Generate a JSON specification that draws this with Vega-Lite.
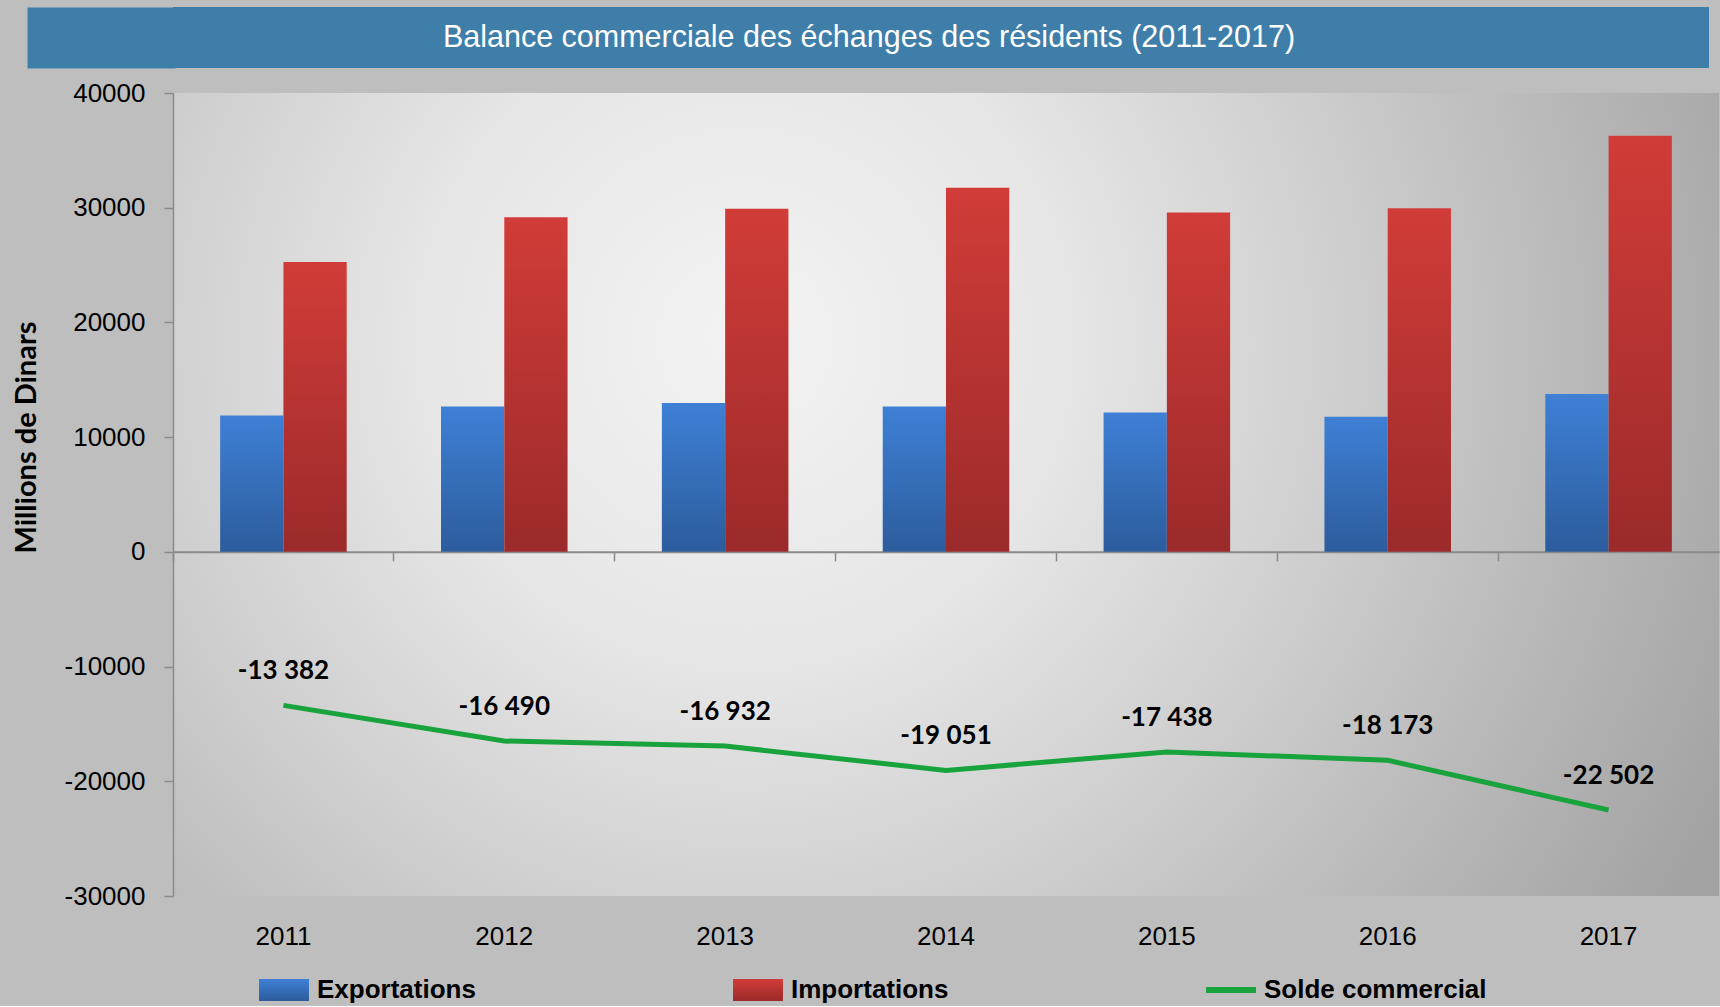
{
  "$schema": "https://vega.github.io/schema/vega-lite/v6.json",
  "background": "#bebebe",
  "padding": {"left": 12, "top": 7, "right": 2, "bottom": 3},
  "columns": 1,
  "align": "none",
  "spacing": 12,
  "datasets": {
    "echanges": [
      {"annee": "2011", "serie": "Exportations", "valeur": 11880},
      {"annee": "2011", "serie": "Importations", "valeur": 25262},
      {"annee": "2012", "serie": "Exportations", "valeur": 12680},
      {"annee": "2012", "serie": "Importations", "valeur": 29170},
      {"annee": "2013", "serie": "Exportations", "valeur": 12980},
      {"annee": "2013", "serie": "Importations", "valeur": 29912},
      {"annee": "2014", "serie": "Exportations", "valeur": 12680},
      {"annee": "2014", "serie": "Importations", "valeur": 31731},
      {"annee": "2015", "serie": "Exportations", "valeur": 12150},
      {"annee": "2015", "serie": "Importations", "valeur": 29588},
      {"annee": "2016", "serie": "Exportations", "valeur": 11780},
      {"annee": "2016", "serie": "Importations", "valeur": 29953},
      {"annee": "2017", "serie": "Exportations", "valeur": 13770},
      {"annee": "2017", "serie": "Importations", "valeur": 36272}
    ],
    "solde": [
      {"annee": "2011", "serie": "Solde commercial", "solde": -13382, "etiquette": "-13 382"},
      {"annee": "2012", "serie": "Solde commercial", "solde": -16490, "etiquette": "-16 490"},
      {"annee": "2013", "serie": "Solde commercial", "solde": -16932, "etiquette": "-16 932"},
      {"annee": "2014", "serie": "Solde commercial", "solde": -19051, "etiquette": "-19 051"},
      {"annee": "2015", "serie": "Solde commercial", "solde": -17438, "etiquette": "-17 438"},
      {"annee": "2016", "serie": "Solde commercial", "solde": -18173, "etiquette": "-18 173"},
      {"annee": "2017", "serie": "Solde commercial", "solde": -22502, "etiquette": "-22 502"}
    ],
    "titre": [
      {"titre": "Balance commerciale des échanges des résidents (2011-2017)"}
    ]
  },
  "concat": [
    {
      "width": 1536,
      "height": 61,
      "view": {"fill": "#3e7ea9", "stroke": null},
      "data": {"name": "titre"},
      "mark": {"type": "text", "color": "#ffffff", "font": "Liberation Sans", "fontSize": 30.5, "align": "center", "baseline": "middle", "dx": -72},
      "encoding": {
        "y": {
          "field": "titre", "type": "nominal",
          "axis": {
            "title": null, "labels": false, "ticks": false, "grid": false,
            "domain": true, "domainColor": "#3e7ea9", "domainWidth": 148, "offset": 72
          }
        },
        "text": {"field": "titre", "type": "nominal"}
      }
    },
    {
      "width": 1546,
      "height": 803,
      "view": {
        "stroke": null,
        "fill": {
          "gradient": "radial",
          "x1": 0.37, "y1": 0.40, "r1": 0,
          "x2": 0.37, "y2": 0.40, "r2": 0.7,
          "stops": [
            {"offset": 0, "color": "#f3f3f3"},
            {"offset": 0.3, "color": "#e6e6e6"},
            {"offset": 0.55, "color": "#cfcfcf"},
            {"offset": 0.8, "color": "#b6b6b6"},
            {"offset": 1, "color": "#a3a3a3"}
          ]
        }
      },
      "resolve": {"axis": {"x": "independent"}},
      "layer": [
        {
          "data": {"name": "echanges"},
          "transform": [{"filter": "datum.serie === 'Exportations'"}],
          "mark": {
            "type": "bar",
            "fill": {"gradient": "linear", "x1": 0, "y1": 0, "x2": 0, "y2": 1, "stops": [{"offset": 0, "color": "#3e80d6"}, {"offset": 1, "color": "#2c5c9c"}]}
          },
          "encoding": {
            "x": {
              "field": "annee", "type": "ordinal",
              "scale": {"paddingInner": 0.427, "paddingOuter": 0.2135},
              "axis": {
                "orient": "bottom", "title": null, "domain": false, "ticks": false,
                "labelAngle": 0, "labelPadding": 27,
                "labelFont": "Liberation Sans", "labelFontSize": 26, "labelColor": "#000000"
              }
            },
            "xOffset": {"field": "serie", "type": "nominal", "scale": {"domain": ["Exportations", "Importations"], "paddingInner": 0, "paddingOuter": 0}},
            "y": {
              "field": "valeur", "type": "quantitative", "title": "Millions de Dinars",
              "scale": {"domain": [-30000, 40000], "nice": false, "zero": false},
              "axis": {
                "values": [-30000, -20000, -10000, 0, 10000, 20000, 30000, 40000],
                "labelExpr": "'' + datum.value",
                "grid": false,
                "labelFont": "Liberation Sans", "labelFontSize": 26, "labelColor": "#000000",
                "labelPadding": 19,
                "tickSize": 9, "tickWidth": 1.5, "tickColor": "#8a8a8a",
                "domainColor": "#8a8a8a", "domainWidth": 1.5,
                "titleFont": "Lato", "titleFontWeight": "bold", "titleFontSize": 29, "titleColor": "#000000",
                "titleAngle": 270, "titleAlign": "center", "titleBaseline": "middle",
                "titleX": -147, "titleY": 344
              }
            }
          }
        },
        {
          "data": {"name": "echanges"},
          "transform": [{"filter": "datum.serie === 'Importations'"}],
          "mark": {
            "type": "bar",
            "fill": {"gradient": "linear", "x1": 0, "y1": 0, "x2": 0, "y2": 1, "stops": [{"offset": 0, "color": "#d13c38"}, {"offset": 1, "color": "#9b2a2a"}]}
          },
          "encoding": {
            "x": {"field": "annee", "type": "ordinal", "axis": null},
            "xOffset": {"field": "serie", "type": "nominal"},
            "y": {"field": "valeur", "type": "quantitative", "title": "Millions de Dinars"}
          }
        },
        {
          "data": {"name": "solde"},
          "mark": {"type": "line", "strokeWidth": 5},
          "encoding": {
            "x": {
              "field": "annee", "type": "ordinal",
              "axis": {
                "orient": "top", "offset": -458.86, "title": null, "labels": false,
                "domainColor": "#8a8a8a", "domainWidth": 2,
                "tickColor": "#8a8a8a", "tickWidth": 1.5, "tickSize": -9, "bandPosition": -0.3726
              }
            },
            "y": {"field": "solde", "type": "quantitative", "title": "Millions de Dinars"},
            "color": {
              "field": "serie", "type": "nominal",
              "scale": {
                "domain": ["Exportations", "Importations", "Solde commercial"],
                "range": ["#3a78c9", "#c0393a", "#19a33d"]
              },
              "legend": {
                "orient": "none", "legendX": 98, "legendY": 970,
                "direction": "horizontal", "columns": 3, "columnPadding": 257, "gridAlign": "each",
                "title": null, "padding": 0,
                "labelFont": "Liberation Sans", "labelFontWeight": "bold", "labelFontSize": 26, "labelColor": "#000000",
                "labelOffset": 20, "labelLimit": 400, "symbolSize": 484,
                "encode": {
                  "symbols": {
                    "update": {
                      "shape": {"signal": "datum.value === 'Solde commercial' ? 'M-2.27,-0.27H2.27V0.27H-2.27Z' : 'M-2.27,-1H2.27V1H-2.27Z'"},
                      "fill": {"signal": "datum.value === 'Exportations' ? {gradient: 'linear', x1: 0, y1: 0, x2: 0, y2: 1, stops: [{offset: 0, color: '#3e80d6'}, {offset: 1, color: '#2c5c9c'}]} : datum.value === 'Importations' ? {gradient: 'linear', x1: 0, y1: 0, x2: 0, y2: 1, stops: [{offset: 0, color: '#d13c38'}, {offset: 1, color: '#9b2a2a'}]} : '#19a33d'"},
                      "stroke": {"value": "transparent"},
                      "strokeWidth": {"value": 0},
                      "opacity": {"value": 1}
                    }
                  }
                }
              }
            }
          }
        },
        {
          "data": {"name": "solde"},
          "mark": {"type": "text", "font": "Lato", "fontWeight": "bold", "fontSize": 26, "color": "#000000", "dy": -34, "baseline": "middle"},
          "encoding": {
            "x": {"field": "annee", "type": "ordinal", "axis": null},
            "y": {"field": "solde", "type": "quantitative", "title": "Millions de Dinars"},
            "text": {"field": "etiquette", "type": "nominal"}
          }
        }
      ]
    }
  ]
}
